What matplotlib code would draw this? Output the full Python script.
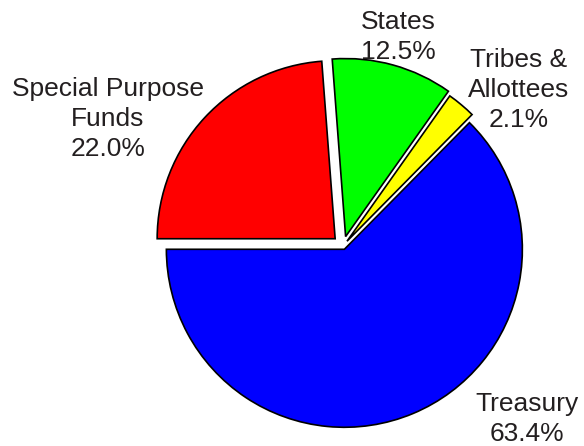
import matplotlib
matplotlib.use("Agg")
import matplotlib.pyplot as plt

# pie data, counterclockwise from the left (9 o'clock)
categories = ["Treasury", "Tribes &\nAllottees", "States", "Special Purpose\nFunds"]
# slice sizes as drawn in the reference (angles)
shares = [62.6, 2.6, 11.0, 23.8]
# percentages printed on the labels
pct_labels = ["63.4%", "2.1%", "12.5%", "22.0%"]

colors = ["#0000ff", "#ffff00", "#00ff00", "#ff0000"]
explode = [0.02, 0.035, 0.055, 0.06]

# label block centres in data units (pie radius = 1)
label_pos = [(1.034, -0.972), (0.989, 0.876), (0.309, 1.174), (-1.320, 0.713)]

plt.rcParams["font.family"] = ["Liberation Sans", "DejaVu Sans"]

fig = plt.figure(figsize=(5.84, 4.46), dpi=100)
ax = fig.add_axes([0, 0, 1, 1])

wedges, _ = ax.pie(shares, colors=colors, explode=explode, startangle=180,
                   counterclock=True,
                   wedgeprops=dict(edgecolor="black", linewidth=1.2))

for name, pct, (x, y) in zip(categories, pct_labels, label_pos):
    ax.text(x, y, name + "\n" + pct, ha="center", va="center",
            fontsize=19, color="#231f20", linespacing=1.3)

px = 178.0  # pixels per unit radius
cx, cy = 343, 246
ax.set_xlim(-cx / px, (584 - cx) / px)
ax.set_ylim(-(446 - cy) / px, cy / px)
ax.set_aspect("auto")
ax.axis("off")

fig.savefig("out.png", dpi=100)
